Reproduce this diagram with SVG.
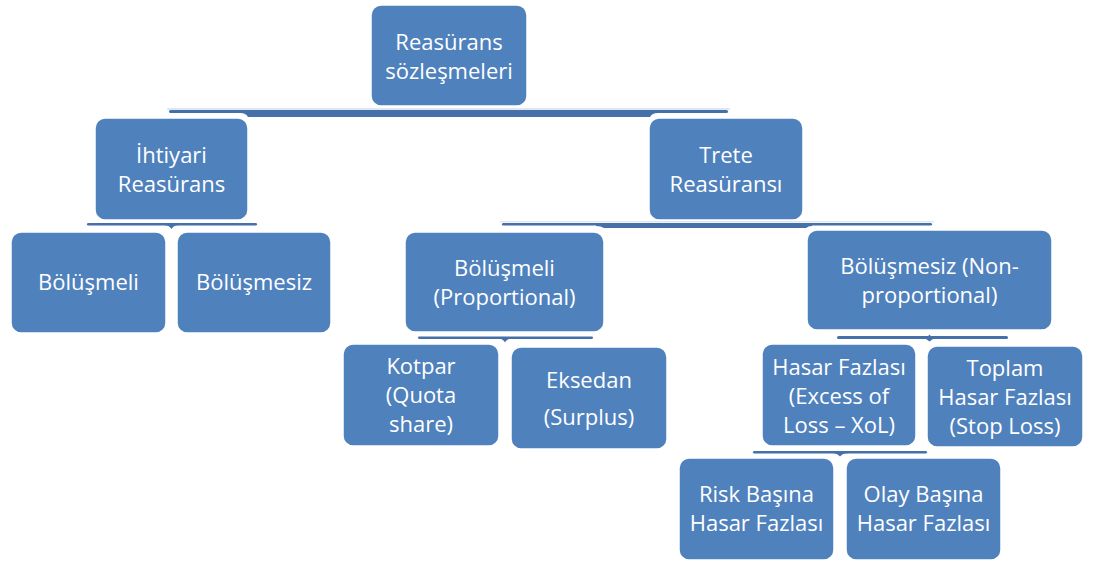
<svg xmlns="http://www.w3.org/2000/svg" width="1096" height="562" viewBox="0 0 1096 562">
<defs>
<style>
.box{fill:#4f81bd;stroke:#ffffff;stroke-width:1.5}
.t{font-family:"Open Sans","Liberation Sans",sans-serif;font-size:22px;fill:#ffffff;text-anchor:middle}
.c{fill:#4671a8}
.hl{fill:#dfe6f0}
</style>
</defs>
<rect width="1096" height="562" fill="#ffffff"/>
<g id="connectors">
  <!-- root bracket -->
  <rect class="hl" x="167" y="108" width="563" height="2" rx="1"/>
  <rect class="c" x="169" y="110" width="559" height="3" rx="1.5"/>
  <path class="c" d="M240 110 H658 V113 Q652 113 650 117 H248 Q246 113 240 113 Z"/>
  <!-- İhtiyari bracket -->
  <rect class="c" x="87" y="223" width="170" height="2.5" rx="1.2"/>
  <path class="c" d="M160 225 C166 225 169 225 171.5 229 C174 225 177 225 183 225 Z"/>
  <!-- Trete bracket -->
  <rect class="hl" x="500" y="221" width="434" height="1.5"/>
  <rect class="c" x="502" y="223" width="430" height="2.5" rx="1.2"/>
  <path class="c" d="M596 223 H812 V226 Q808 226 806 228 H604 Q601 226 596 226 Z"/>
  <!-- Proportional bracket -->
  <rect class="c" x="418" y="336.5" width="175" height="2.5" rx="1.2"/>
  <path class="c" d="M495 338.5 C501 338.5 503 339 505 342.5 C507 339 509 338.5 515 338.5 Z"/>
  <!-- Non-proportional bracket -->
  <rect class="c" x="837" y="336" width="171" height="3" rx="1.5"/>
  <path class="c" d="M925 338.5 C927 338 928 336 929.5 334.5 C931 336 932 338 934 338.5 C932 339.5 931 340.5 929.5 341.5 C928 340.5 927 339.5 925 338.5 Z"/>
  <!-- Hasar Fazlası bracket -->
  <rect class="c" x="753" y="451" width="174" height="2.5" rx="1.2"/>
  <path class="c" d="M829 453 C835 453 837 453.5 840 456.5 C843 453.5 845 453 851 453 Z"/>
</g>
<g id="n-root">
  <rect class="box" x="371" y="5" width="156" height="101" rx="10"/>
  <text class="t" x="449" y="50">Reasürans</text>
  <text class="t" x="449" y="79">sözleşmeleri</text>
</g>
<g id="n-ihtiyari">
  <rect class="box" x="95" y="118" width="153" height="102" rx="10"/>
  <text class="t" x="171.5" y="163">İhtiyari</text>
  <text class="t" x="171.5" y="192">Reasürans</text>
</g>
<g id="n-trete">
  <rect class="box" x="649" y="118" width="154" height="102" rx="10"/>
  <text class="t" x="726" y="163">Trete</text>
  <text class="t" x="726" y="192">Reasüransı</text>
</g>
<g id="n-bolusmeli1">
  <rect class="box" x="11" y="232" width="155" height="101" rx="10"/>
  <text class="t" x="88.5" y="290">Bölüşmeli</text>
</g>
<g id="n-bolusmesiz1">
  <rect class="box" x="177" y="232" width="154" height="101" rx="10"/>
  <text class="t" x="254" y="290">Bölüşmesiz</text>
</g>
<g id="n-proportional">
  <rect class="box" x="405" y="232" width="199" height="100" rx="10"/>
  <text class="t" x="504.5" y="276">Bölüşmeli</text>
  <text class="t" x="504.5" y="305">(Proportional)</text>
</g>
<g id="n-nonproportional">
  <rect class="box" x="807" y="230" width="245" height="100" rx="10"/>
  <text class="t" x="929.5" y="274">Bölüşmesiz (Non-</text>
  <text class="t" x="929.5" y="303">proportional)</text>
</g>
<g id="n-kotpar">
  <rect class="box" x="343" y="344" width="156" height="102" rx="10"/>
  <text class="t" x="421" y="374">Kotpar</text>
  <text class="t" x="421" y="403">(Quota</text>
  <text class="t" x="421" y="432">share)</text>
</g>
<g id="n-eksedan">
  <rect class="box" x="511" y="347" width="156" height="102" rx="10"/>
  <text class="t" x="589" y="388">Eksedan</text>
  <text class="t" x="589" y="425">(Surplus)</text>
</g>
<g id="n-xol">
  <rect class="box" x="762" y="344" width="154" height="102" rx="10"/>
  <text class="t" x="839" y="375">Hasar Fazlası</text>
  <text class="t" x="839" y="404">(Excess of</text>
  <text class="t" x="839" y="433">Loss – XoL)</text>
</g>
<g id="n-stoploss">
  <rect class="box" x="927" y="346" width="156" height="101" rx="10"/>
  <text class="t" x="1005" y="376">Toplam</text>
  <text class="t" x="1005" y="405">Hasar Fazlası</text>
  <text class="t" x="1005" y="434">(Stop Loss)</text>
</g>
<g id="n-risk">
  <rect class="box" x="679" y="458" width="155" height="102" rx="10"/>
  <text class="t" x="756.5" y="502">Risk Başına</text>
  <text class="t" x="756.5" y="531">Hasar Fazlası</text>
</g>
<g id="n-olay">
  <rect class="box" x="846" y="458" width="155" height="102" rx="10"/>
  <text class="t" x="923.5" y="502">Olay Başına</text>
  <text class="t" x="923.5" y="531">Hasar Fazlası</text>
</g>
</svg>
